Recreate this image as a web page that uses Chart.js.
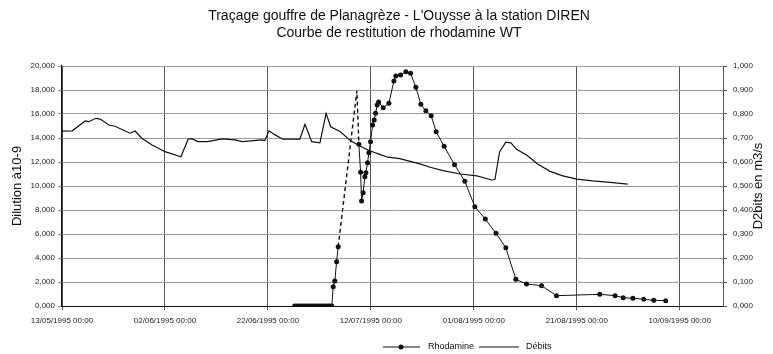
<!DOCTYPE html>
<html>
<head>
<meta charset="utf-8">
<script src="https://cdn.jsdelivr.net/npm/chart.js@4.4.1/dist/chart.umd.min.js"></script>
<style>
  body { margin: 0; background: #fff; }
  #wrap { width: 773px; height: 354px; }
</style>
</head>
<body>
<div id="wrap"><canvas id="traceChart" width="773" height="354"></canvas></div>
<script>
// x values are days since 13/05/1995 00:00
const xTickLabels = ['13/05/1995 00:00', '02/06/1995 00:00', '22/06/1995 00:00', '12/07/1995 00:00',
  '01/08/1995 00:00', '21/08/1995 00:00', '10/09/1995 00:00'];

const titleLines = ["Traçage gouffre de Planagrèze - L'Ouysse à la station DIREN", 'Courbe de restitution de rhodamine WT'];
const rightAxisTitle = 'D2bits en m3/s';

// Rhodamine (dilution, left axis)
const rhodaDays = [45.2, 45.6, 46.0, 46.4, 46.8, 47.2, 47.6, 48.0, 48.4, 48.8, 49.2, 49.6, 50.0, 50.4, 50.8,
  51.2, 51.6, 52.0, 52.4, 52.68, 53.0, 53.34, 53.65, 57.28, 57.67, 58.0, 58.19, 58.5, 58.83, 59.03, 59.36,
  59.61, 59.94, 60.33, 60.64, 60.91, 61.22, 61.5, 62.39, 63.5, 64.47, 64.85, 65.77, 66.8, 67.71, 68.74,
  69.71, 70.68, 71.71, 72.68, 74.23, 76.25, 78.25, 80.19, 82.23, 84.31, 86.21, 88.16, 90.23, 93.15, 96.06,
  104.47, 107.44, 109.0, 110.9, 113.0, 114.95, 117.28];
const rhodaValues = [0, 0, 0, 0, 0, 0, 0, 0, 0, 0, 0, 0, 0, 0, 0,
  0, 0, 0, 0, 1.608, 2.083, 3.692, 4.942, 17.94, 13.475, 11.142, 8.75, 9.442, 10.775, 11.108, 11.942,
  12.775, 13.692, 15.083, 15.5, 16.058, 16.75, 17.0, 16.525, 16.892, 18.75, 19.167, 19.25, 19.525, 19.392, 18.225,
  16.808, 16.275, 15.858, 14.525, 13.308, 11.775, 10.392, 8.275, 7.24, 6.058, 4.858, 2.225, 1.833, 1.692, 0.858,
  0.975, 0.858, 0.692, 0.642, 0.558, 0.475, 0.442];
// estimated point, drawn without marker and joined by dashed segments
const rhodaEstimatedIndex = 23;

// Débits (m3/s, right axis)
const debitDays = [0, 2, 4.5, 5.2, 6.6, 7.4, 9.1, 10.3, 13.2, 14.2, 15.5, 17.5, 20.0, 23.1, 24.5, 25.2,
  26.4, 28.3, 31.1, 33.6, 35.0, 38.8, 39.4, 40.2, 41.4, 42.9, 46.2, 47.2, 48.5, 50.1, 51.3, 52.2, 54.0,
  56.1, 57.5, 59.4, 61.7, 63.3, 65.6, 69.5, 71.5, 74.0, 77.3, 80.6, 83.5, 84.1, 85.0, 86.2, 87.2, 88.3,
  90.3, 92.4, 94.8, 97.3, 100.0, 103.1, 107.0, 109.9];
const debitValues = [0.729, 0.730, 0.771, 0.768, 0.782, 0.779, 0.754, 0.749, 0.720, 0.729, 0.699, 0.671, 0.643, 0.622, 0.695, 0.697,
  0.685, 0.685, 0.696, 0.692, 0.685, 0.692, 0.689, 0.730, 0.713, 0.695, 0.695, 0.757, 0.685, 0.680, 0.802, 0.747, 0.727,
  0.688, 0.671, 0.650, 0.632, 0.620, 0.614, 0.592, 0.578, 0.564, 0.550, 0.542, 0.525, 0.527, 0.642, 0.683, 0.680, 0.653,
  0.628, 0.592, 0.561, 0.542, 0.529, 0.521, 0.514, 0.508];

const tickFont = { family: "'Liberation Sans', Arial, sans-serif", size: 8 };
const fmt3 = v => v.toFixed(3).replace('.', ',');

// two-line title and the right axis title (which reads upwards, like the left one)
const textPlugin = {
  id: 'extraTexts',
  afterDraw(chart) {
    const { ctx, chartArea } = chart;
    ctx.save();
    ctx.fillStyle = '#111';
    ctx.textAlign = 'center';
    ctx.textBaseline = 'middle';
    ctx.font = "14px 'Liberation Sans', Arial, sans-serif";
    titleLines.forEach((line, i) => ctx.fillText(line, 399, 16 + i * 17));
    ctx.font = "13px 'Liberation Sans', Arial, sans-serif";
    ctx.translate(758, (chartArea.top + chartArea.bottom) / 2);
    ctx.rotate(-Math.PI / 2);
    ctx.fillText(rightAxisTitle, 0, 0);
    ctx.restore();
  }
};

const legendPlugin = {
  id: 'bottomLegend',
  afterDraw(chart) {
    const { ctx } = chart;
    const ds = chart.data.datasets;
    const y = 347;
    ctx.save();
    ctx.font = "9px 'Liberation Sans', Arial, sans-serif";
    ctx.textBaseline = 'middle';
    // Rhodamine
    ctx.strokeStyle = ds[0].borderColor;
    ctx.lineWidth = 1;
    ctx.beginPath(); ctx.moveTo(383, y); ctx.lineTo(420, y); ctx.stroke();
    ctx.beginPath(); ctx.arc(401, y, 2.5, 0, Math.PI * 2); ctx.fillStyle = ds[0].pointBackgroundColor; ctx.fill();
    ctx.fillStyle = '#111';
    ctx.fillText(ds[0].label, 428, y);
    // Débits
    ctx.strokeStyle = ds[1].borderColor;
    ctx.lineWidth = 1.2;
    ctx.beginPath(); ctx.moveTo(479, y); ctx.lineTo(519, y); ctx.stroke();
    ctx.fillText(ds[1].label, 526, y);
    ctx.restore();
  }
};

new Chart(document.getElementById('traceChart').getContext('2d'), {
  type: 'line',
  data: {
    datasets: [
      {
        label: 'Rhodamine',
        data: rhodaDays.map((d, i) => ({ x: d, y: rhodaValues[i] })),
        yAxisID: 'yDil',
        borderColor: '#111',
        borderWidth: 1,
        pointBackgroundColor: '#111',
        pointBorderColor: '#111',
        pointRadius: ctx => ctx.dataIndex === rhodaEstimatedIndex ? 0 : 2.5,
        pointBorderWidth: 0,
        tension: 0,
        segment: {
          borderDash: ctx => (ctx.p0DataIndex === rhodaEstimatedIndex || ctx.p1DataIndex === rhodaEstimatedIndex) ? [4, 3] : undefined,
          borderWidth: ctx => (ctx.p0DataIndex === rhodaEstimatedIndex || ctx.p1DataIndex === rhodaEstimatedIndex) ? 1.4 : 1
        }
      },
      {
        label: 'Débits',
        data: debitDays.map((d, i) => ({ x: d, y: debitValues[i] })),
        yAxisID: 'yDeb',
        borderColor: '#111',
        borderWidth: 1.2,
        pointRadius: 0,
        tension: 0
      }
    ]
  },
  options: {
    responsive: false,
    animation: false,
    layout: { padding: { top: 66, left: 0, right: 0, bottom: 0 } },
    plugins: {
      legend: { display: false },
      title: { display: false },
      tooltip: { enabled: false }
    },
    scales: {
      x: {
        type: 'linear',
        min: 0,
        max: 128.4,
        afterBuildTicks: axis => {
          axis.ticks = axis.ticks.filter(t => Math.abs(t.value / 20 - Math.round(t.value / 20)) < 1e-6);
        },
        afterFit: scale => { scale.height = 48; },
        ticks: {
          stepSize: 20,
          maxRotation: 0,
          autoSkip: false,
          padding: 6,
          color: '#222',
          font: tickFont,
          callback: v => xTickLabels[Math.round(v / 20)] || ''
        },
        grid: { color: '#555', lineWidth: 1, tickLength: 4 },
        border: { color: '#111', width: 1 }
      },
      yDil: {
        position: 'left',
        min: 0,
        max: 20,
        afterFit: scale => { scale.width = 62; },
        ticks: { stepSize: 2, padding: 3, color: '#222', font: tickFont, callback: v => fmt3(v) },
        grid: { color: '#9a9a9a', lineWidth: 1, tickLength: 4 },
        border: { color: '#111', width: 1.2 },
        title: {
          display: true,
          text: 'Dilution à10-9',
          color: '#111',
          font: { family: "'Liberation Sans', Arial, sans-serif", size: 13 },
          padding: { top: 10, bottom: 0 }
        }
      },
      yDeb: {
        position: 'right',
        min: 0,
        max: 1,
        afterFit: scale => { scale.width = 50; },
        ticks: { stepSize: 0.1, padding: 6, color: '#222', font: tickFont, callback: v => fmt3(v) },
        grid: { drawOnChartArea: false, color: '#555', tickLength: 4 },
        border: { color: '#555', width: 1 }
      }
    }
  },
  plugins: [textPlugin, legendPlugin]
});
</script>
</body>
</html>
